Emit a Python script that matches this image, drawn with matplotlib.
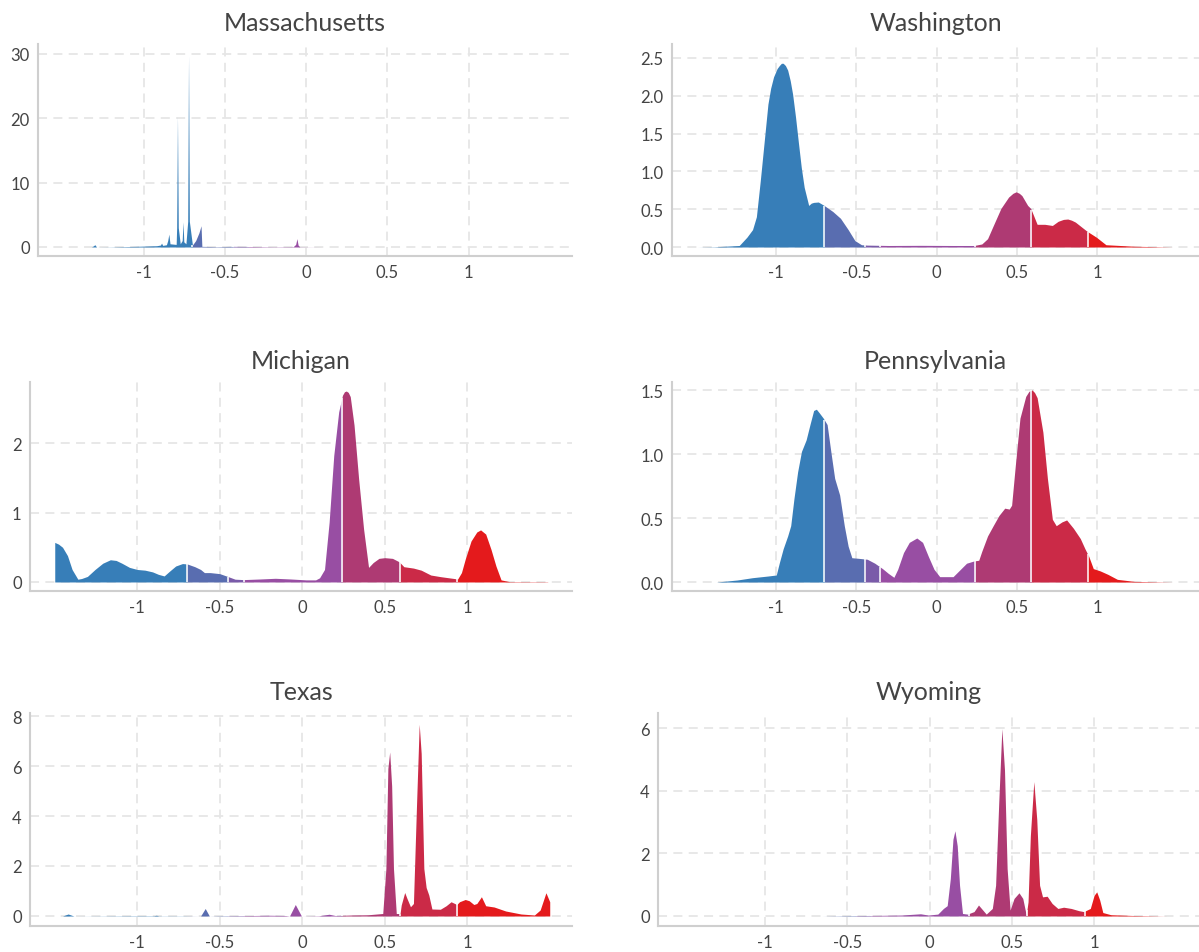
"""
Density of partisan lean per state, split into coloured lean bands.
Six panels, 3 rows x 2 columns, saved to out.png.
"""

import numpy as np
import matplotlib

matplotlib.use("Agg")
import matplotlib.pyplot as plt

plt.rcParams["font.family"] = ["Lato", "DejaVu Sans"]

# lean bands: edges and fill colours (blue -> red)
BAND_EDGES = [-0.7, -0.45, -0.355, 0.24, 0.59, 0.94]
BAND_COLORS = ["#377eb8", "#596db0", "#7a5ba9", "#984ea3", "#ae3a73", "#cb2a47", "#e41a1c"]

X_TICKS = [-1, -0.5, 0, 0.5, 1]
X_TICK_LABELS = ["-1", "-0.5", "0", "0.5", "1"]

# ---- Massachusetts
MA_X = [-1.32, -1.30, -1.29, -1.20, -1.05, -0.98, -0.92, -0.897, -0.89, -0.883, -0.86,
        -0.852, -0.845, -0.838, -0.80, -0.797, -0.792, -0.787, -0.775, -0.763, -0.758,
        -0.753, -0.74, -0.729, -0.724, -0.719, -0.70, -0.68, -0.66, -0.647, -0.642,
        -0.55, -0.45, -0.35, -0.20, -0.08, -0.065, -0.057, -0.05, -0.04, 0.10]
MA_Y = [0.0, 0.35, 0.0, 0.02, 0.10, 0.15, 0.20, 0.3, 0.6, 0.25, 0.35,
        1.0, 2.0, 0.5, 0.4, 3.0, 20.3, 3.0, 0.5, 1.0, 3.9,
        0.8, 0.5, 4.0, 29.7, 4.0, 0.3, 1.0, 2.2, 3.3, 0.1,
        0.05, 0.10, 0.08, 0.03, 0.05, 0.4, 1.3, 0.3, 0.02, 0.0]
MA_YTICKS = [0, 10, 20, 30]
MA_YTICK_LABELS = ["0", "10", "20", "30"]

# ---- Washington
WA_X = [-1.493, -1.386, -1.231, -1.183, -1.148, -1.124, -1.10, -1.076, -1.052, -1.035, -1.017,
        -0.995, -0.981, -0.968, -0.957, -0.943, -0.929, -0.913, -0.898, -0.880, -0.862, -0.844,
        -0.826, -0.798, -0.782, -0.767, -0.738, -0.702,
        -0.648, -0.60, -0.552, -0.51, -0.469, -0.433, -0.30, -0.10, 0.10, 0.233,
        0.281, 0.317, 0.352, 0.40, 0.448, 0.475, 0.495, 0.515, 0.531, 0.567, 0.586, 0.626,
        0.674, 0.721, 0.757, 0.790, 0.817, 0.840, 0.864, 0.924, 0.936, 0.995, 1.055, 1.233, 1.471]
WA_Y = [0.0, 0.003, 0.02, 0.13, 0.23, 0.40, 0.87, 1.38, 1.89, 2.10, 2.25,
        2.36, 2.40, 2.43, 2.43, 2.40, 2.34, 2.20, 2.02, 1.72, 1.38, 1.05,
        0.79, 0.55, 0.58, 0.59, 0.595, 0.55,
        0.47, 0.38, 0.23, 0.085, 0.03, 0.025, 0.02, 0.022, 0.02, 0.02,
        0.04, 0.11, 0.28, 0.51, 0.66, 0.71, 0.73, 0.71, 0.68, 0.55, 0.51, 0.30,
        0.30, 0.285, 0.34, 0.365, 0.37, 0.355, 0.33, 0.23, 0.21, 0.13, 0.03, 0.01, 0.0]
WA_YTICKS = [0, 0.5, 1.0, 1.5, 2.0, 2.5]
WA_YTICK_LABELS = ["0.0", "0.5", "1.0", "1.5", "2.0", "2.5"]

# ---- Michigan
MI_X = [-1.50, -1.477, -1.453, -1.423, -1.395, -1.36, -1.337, -1.302, -1.256, -1.209,
        -1.163, -1.128, -1.093, -1.047, -1.0, -0.953, -0.907, -0.872, -0.837, -0.802,
        -0.767, -0.726, -0.698, -0.651, -0.616, -0.593, -0.558, -0.50, -0.449, -0.407,
        -0.356, -0.256, -0.163, -0.07, 0.023, 0.081, 0.105, 0.135, 0.163, 0.191,
        0.221, 0.244, 0.256, 0.267, 0.279, 0.291, 0.314, 0.342, 0.372, 0.402, 0.430, 0.465,
        0.50, 0.547, 0.588, 0.616, 0.674, 0.721, 0.779, 0.837, 0.895, 0.942,
        0.965, 0.988, 1.023, 1.058, 1.081, 1.112, 1.144, 1.174, 1.205, 1.256, 1.488]
MI_Y = [0.57, 0.545, 0.50, 0.38, 0.18, 0.04, 0.05, 0.08, 0.18, 0.27,
        0.32, 0.31, 0.27, 0.21, 0.18, 0.17, 0.145, 0.11, 0.087, 0.16,
        0.23, 0.265, 0.26, 0.22, 0.18, 0.135, 0.135, 0.12, 0.077, 0.04,
        0.034, 0.043, 0.053, 0.043, 0.03, 0.03, 0.06, 0.18, 0.86, 1.82,
        2.45, 2.69, 2.74, 2.75, 2.73, 2.67, 2.26, 1.48, 0.76, 0.21, 0.28, 0.34,
        0.35, 0.34, 0.29, 0.22, 0.20, 0.17, 0.10, 0.077, 0.058, 0.043,
        0.135, 0.33, 0.59, 0.72, 0.75, 0.69, 0.47, 0.23, 0.03, 0.005, 0.003]
MI_YTICKS = [0, 1, 2]
MI_YTICK_LABELS = ["0", "1", "2"]

# ---- Pennsylvania
PA_X = [-1.374, -1.243, -1.148, -1.052, -1.0, -0.981, -0.957, -0.929, -0.910, -0.890,
        -0.867, -0.843, -0.814, -0.790, -0.767, -0.75, -0.731, -0.707, -0.683, -0.660,
        -0.636, -0.605, -0.576, -0.552, -0.529, -0.493, -0.433, -0.386, -0.338, -0.302,
        -0.267, -0.243, -0.207, -0.171, -0.124, -0.088, -0.052, -0.017, 0.019, 0.102,
        0.138, 0.186, 0.233, 0.262, 0.281, 0.317, 0.352, 0.388, 0.424, 0.452,
        0.467, 0.490, 0.519, 0.555, 0.575, 0.595, 0.610, 0.626, 0.662, 0.690, 0.721, 0.745,
        0.781, 0.810, 0.852, 0.895, 0.924, 0.948, 0.976, 1.019, 1.067, 1.126, 1.233, 1.471]
PA_Y = [0.0, 0.016, 0.034, 0.047, 0.055, 0.15, 0.26, 0.36, 0.44, 0.65,
        0.86, 1.02, 1.11, 1.23, 1.34, 1.35, 1.32, 1.28, 1.23, 1.02,
        0.81, 0.68, 0.44, 0.28, 0.19, 0.186, 0.178, 0.147, 0.105, 0.068,
        0.037, 0.10, 0.23, 0.31, 0.344, 0.31, 0.20, 0.10, 0.042, 0.042,
        0.087, 0.147, 0.165, 0.17, 0.24, 0.36, 0.44, 0.52, 0.577, 0.57,
        0.60, 0.91, 1.28, 1.45, 1.49, 1.50, 1.48, 1.44, 1.17, 0.81, 0.49, 0.44,
        0.47, 0.485, 0.42, 0.34, 0.26, 0.20, 0.105, 0.087, 0.06, 0.021, 0.005, 0.0]
PA_YTICKS = [0, 0.5, 1.0, 1.5]
PA_YTICK_LABELS = ["0.0", "0.5", "1.0", "1.5"]

# ---- Texas
TX_X = [-1.453, -1.419, -1.384, -1.20, -1.047, -0.90, -0.884, -0.87, -0.70, -0.616,
        -0.588, -0.563, -0.50, -0.30, -0.20, -0.10, -0.077, -0.042, -0.005, 0.10,
        0.163, 0.20, 0.30, 0.40, 0.488, 0.507, 0.519, 0.53, 0.542, 0.553,
        0.57, 0.593, 0.60, 0.621, 0.635, 0.656, 0.674, 0.693, 0.709, 0.721,
        0.737, 0.751, 0.767, 0.786, 0.837, 0.872, 0.902, 0.937, 0.953, 0.988,
        1.012, 1.040, 1.058, 1.086, 1.112, 1.163, 1.233, 1.326, 1.407, 1.442,
        1.477, 1.50]
TX_Y = [0.0, 0.08, 0.0, 0.005, 0.01, 0.01, 0.03, 0.005, 0.005, 0.0,
        0.30, 0.0, 0.01, 0.02, 0.03, 0.02, 0.0, 0.46, 0.0, 0.01,
        0.07, 0.02, 0.04, 0.05, 0.10, 1.9, 5.9, 6.56, 5.2, 1.9,
        0.10, 0.10, 0.44, 0.94, 0.70, 0.37, 0.50, 4.5, 7.67, 6.5,
        1.9, 1.14, 0.84, 0.28, 0.27, 0.41, 0.57, 0.46, 0.57, 0.66,
        0.61, 0.46, 0.50, 0.77, 0.41, 0.36, 0.20, 0.08, 0.04, 0.24,
        0.93, 0.57]
TX_YTICKS = [0, 2, 4, 6, 8]
TX_YTICK_LABELS = ["0", "2", "4", "6", "8"]

# ---- Wyoming
WY_X = [-0.657, -0.50, -0.30, -0.171, -0.056, -0.009, 0.049, 0.083, 0.106, 0.125,
        0.141, 0.153, 0.167, 0.181, 0.199, 0.229, 0.269, 0.296, 0.322, 0.343,
        0.380, 0.40, 0.419, 0.438, 0.454, 0.470, 0.488, 0.512, 0.542, 0.565,
        0.586, 0.597, 0.611, 0.632, 0.650, 0.667, 0.685, 0.713, 0.743, 0.778,
        0.813, 0.859, 0.905, 0.935, 0.975, 0.998, 1.014, 1.032, 1.051, 1.100,
        1.238, 1.44]
WY_Y = [0.0, 0.01, 0.02, 0.03, 0.07, 0.03, 0.06, 0.24, 0.33, 1.19,
        2.45, 2.72, 2.24, 0.98, 0.08, 0.06, 0.14, 0.35, 0.19, 0.06,
        0.24, 0.98, 3.61, 5.98, 4.66, 1.51, 0.19, 0.56, 0.74, 0.56,
        0.03, 0.45, 2.56, 4.29, 3.08, 0.98, 0.61, 0.63, 0.40, 0.24,
        0.28, 0.24, 0.17, 0.14, 0.24, 0.66, 0.77, 0.51, 0.11, 0.04,
        0.015, 0.0]
WY_YTICKS = [0, 2, 4, 6]
WY_YTICK_LABELS = ["0", "2", "4", "6"]

# panel name, data, ticks, y-limits, axes box in pixels (left, top, right, bottom)
PANELS = [
    ("Massachusetts", MA_X, MA_Y, MA_YTICKS, MA_YTICK_LABELS, (-1.4, 31.55), (38, 45, 572, 257)),
    ("Washington", WA_X, WA_Y, WA_YTICKS, WA_YTICK_LABELS, (-0.119, 2.685), (672, 45, 1199, 257)),
    ("Michigan", MI_X, MI_Y, MI_YTICKS, MI_YTICK_LABELS, (-0.13, 2.88), (30, 383, 572, 592)),
    ("Pennsylvania", PA_X, PA_Y, PA_YTICKS, PA_YTICK_LABELS, (-0.07, 1.5625), (672, 383, 1199, 592)),
    ("Texas", TX_X, TX_Y, TX_YTICKS, TX_YTICK_LABELS, (-0.4, 8.12), (30, 714, 572, 927)),
    ("Wyoming", WY_X, WY_Y, WY_YTICKS, WY_YTICK_LABELS, (-0.32, 6.48), (658, 714, 1199, 927)),
]

FIG_W, FIG_H = 1199, 953
XLIM = (-1.65, 1.635)


def draw_bands(ax, xs, ys):
    xs = np.asarray(xs, dtype=float)
    ys = np.asarray(ys, dtype=float)
    bounds = [-np.inf] + BAND_EDGES + [np.inf]
    for i, color in enumerate(BAND_COLORS):
        lo, hi = bounds[i], bounds[i + 1]
        inside = (xs > lo) & (xs < hi)
        seg_x = list(xs[inside])
        if lo > xs[0] and lo < xs[-1]:
            seg_x = [lo] + seg_x
        if hi > xs[0] and hi < xs[-1]:
            seg_x = seg_x + [hi]
        if len(seg_x) < 2:
            continue
        seg_y = np.interp(seg_x, xs, ys)
        ax.fill_between(seg_x, 0, seg_y, color=color, linewidth=0, zorder=2)
    # thin white separators at the band edges
    for edge in BAND_EDGES:
        if xs[0] < edge < xs[-1]:
            h = np.interp(edge, xs, ys)
            ax.vlines(edge, 0, h, colors="white", linewidth=1.1, zorder=3)


def main():
    fig = plt.figure(figsize=(FIG_W / 100, FIG_H / 100), dpi=100)
    for name, xs, ys, yt, ytl, ylim, box in PANELS:
        l, t, r, b = box
        ax = fig.add_axes([l / FIG_W, 1 - b / FIG_H, (r - l) / FIG_W, (b - t) / FIG_H])
        draw_bands(ax, xs, ys)
        ax.set_xlim(*XLIM)
        ax.set_ylim(*ylim)
        ax.set_xticks(X_TICKS)
        ax.set_xticklabels(X_TICK_LABELS)
        ax.set_yticks(yt)
        ax.set_yticklabels(ytl)
        ax.set_axisbelow(True)
        ax.grid(True, linestyle=(0, (5, 3.5)), color="#e6e6e6", linewidth=1.3, zorder=0)
        for side in ("top", "right"):
            ax.spines[side].set_visible(False)
        for side in ("left", "bottom"):
            ax.spines[side].set_color("#cfcfcf")
            ax.spines[side].set_linewidth(1.5)
        ax.tick_params(length=0, labelsize=12, labelcolor="#444444", pad=6)
        ax.set_title(name, fontsize=18, color="#444444", pad=10)
    fig.savefig("out.png", dpi=100)
    plt.close(fig)


if __name__ == "__main__":
    main()
